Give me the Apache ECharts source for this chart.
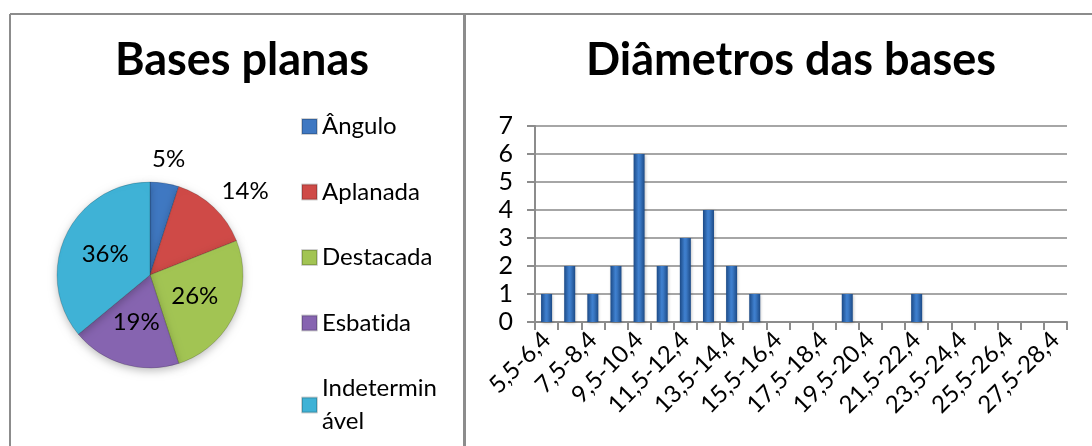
<!DOCTYPE html>
<html>
<head>
<meta charset="utf-8">
<script src="https://cdn.jsdelivr.net/npm/echarts@6/dist/echarts.min.js"></script>
<style>
  html, body { margin: 0; padding: 0; background: #fff; }
  #chart { width: 1092px; height: 446px; }
</style>
</head>
<body>
<div id="chart"></div>
<script>
// --- dados ---
const pieNames = ['Ângulo', 'Aplanada', 'Destacada', 'Esbatida', 'Indeterminável'];
const pieValues = [5, 14, 26, 19, 36];
const pieColors = ['#3f78c2', '#cf4a47', '#a2c453', '#8664b0', '#3fb2d6'];

const binLabels = [
  '5,5-6,4', '6,5-7,4', '7,5-8,4', '8,5-9,4', '9,5-10,4', '10,5-11,4',
  '11,5-12,4', '12,5-13,4', '13,5-14,4', '14,5-15,4', '15,5-16,4', '16,5-17,4',
  '17,5-18,4', '18,5-19,4', '19,5-20,4', '20,5-21,4', '21,5-22,4', '22,5-23,4',
  '23,5-24,4', '24,5-25,4', '25,5-26,4', '26,5-27,4', '27,5-28,4'
];
const binCounts = [1, 2, 1, 2, 6, 2, 3, 4, 2, 1, 0, 0, 0, 1, 0, 0, 1, 0, 0, 0, 0, 0, 0];

const font = 'Lato, "Open Sans", sans-serif';
const frameColor = '#8c8c8c';

const chart = echarts.init(document.getElementById('chart'));

// fatias com rótulo fora do bolo: 5% e 14%
const outsideIdx = [0, 1];

// evita a ligadura "ti" da Lato e parte o nome comprido como no original
function legendText(name) {
  if (name === 'Indeterminável') return 'Indetermin\nável';
  return name.replace('ti', 't\u200Ci');
}

chart.setOption({
  animation: false,
  title: [
    { text: 'Bases planas', left: 237, top: 33, textAlign: 'center',
      textStyle: { fontFamily: font, fontSize: 45, fontWeight: 'bold', color: '#000' } },
    { text: 'Diâmetros das bases', left: 786, top: 33, textAlign: 'center',
      textStyle: { fontFamily: font, fontSize: 45, fontWeight: 'bold', color: '#000' } },
  ],
  legend: {
    orient: 'vertical',
    left: 301,
    top: 110,
    height: 420,
    padding: 0,
    itemWidth: 15,
    itemHeight: 15,
    itemGap: 32.5,
    icon: 'rect',
    data: pieNames,
    formatter: legendText,
    textStyle: { fontFamily: font, fontSize: 24, color: '#000', lineHeight: 33 },
  },
  grid: { left: 535, right: 25, top: 126, bottom: 124 },
  xAxis: {
    type: 'category',
    data: binLabels,
    axisLine: { lineStyle: { color: frameColor, width: 2 } },
    axisTick: { show: true, interval: 0, length: 8, lineStyle: { color: frameColor, width: 2 } },
    axisLabel: { interval: 1, rotate: 45, margin: 14, fontFamily: font, fontSize: 24, color: '#000' },
  },
  yAxis: {
    type: 'value',
    min: 0,
    max: 7,
    interval: 1,
    axisLine: { show: true, lineStyle: { color: frameColor, width: 2 } },
    axisTick: { show: true, length: 8, lineStyle: { color: frameColor, width: 2 } },
    axisLabel: { margin: 22, fontFamily: font, fontSize: 25, color: '#000' },
    splitLine: { lineStyle: { color: '#a6a6a6', width: 2 } },
  },
  series: [
    {
      type: 'pie',
      center: [150, 275],
      radius: 93,
      startAngle: 90,
      clockwise: true,
      data: pieNames.map((n, i) => ({
        name: n,
        value: pieValues[i],
        itemStyle: { color: pieColors[i] },
        label: outsideIdx.includes(i) ? { position: 'outside' } : { position: 'inside' },
      })),
      itemStyle: {
        borderColor: 'rgba(0,0,0,0.18)', borderWidth: 1,
        shadowBlur: 8, shadowColor: 'rgba(0,0,0,0.25)', shadowOffsetY: 3,
      },
      label: { formatter: '{c}%', fontFamily: font, fontSize: 24, color: '#000' },
      labelLine: { show: false, length: 16, length2: 0 },
      labelLayout: p => p.dataIndex === 0 ? { dx: -20, dy: -8 } : (p.dataIndex === 1 ? { dx: -8, dy: -4 } : {}),
      emphasis: { disabled: true },
    },
    {
      type: 'bar',
      data: binCounts,
      barWidth: 11,
      itemStyle: {
        color: new echarts.graphic.LinearGradient(0, 0, 1, 0, [
          { offset: 0, color: '#1c4a86' },
          { offset: 0.45, color: '#3f80cf' },
          { offset: 0.6, color: '#3a78c4' },
          { offset: 1, color: '#1c4a86' },
        ]),
        shadowBlur: 3, shadowColor: 'rgba(0,0,0,0.25)', shadowOffsetX: 1, shadowOffsetY: 1,
      },
    },
  ],
  graphic: [
    { type: 'line', shape: { x1: 10, y1: 14, x2: 1092, y2: 14 }, style: { stroke: frameColor, lineWidth: 2 } },
    { type: 'line', shape: { x1: 10, y1: 14, x2: 10, y2: 446 }, style: { stroke: frameColor, lineWidth: 2 } },
    { type: 'line', shape: { x1: 464.5, y1: 14, x2: 464.5, y2: 446 }, style: { stroke: frameColor, lineWidth: 3 } },
  ],
});
</script>
</body>
</html>
